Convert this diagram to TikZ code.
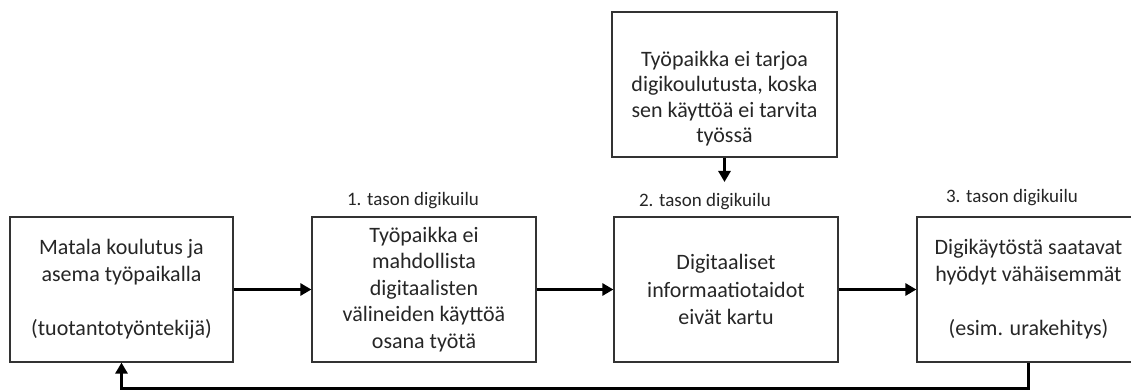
\documentclass[tikz,border=0pt]{standalone}
\usepackage{fontspec}
\setmainfont{Carlito}
\usetikzlibrary{arrows.meta}
\begin{document}
\begin{tikzpicture}[x=1pt,y=-1pt,
  box/.style={draw=black!80,line width=1.2pt,minimum width=223pt,minimum height=145pt,inner sep=0pt,align=center,font=\fontsize{22}{27}\selectfont,text=black!85},
  txt/.style={align=center,font=\fontsize{22}{25.5}\selectfont,text=black!85},
  lbl/.style={font=\fontsize{19}{23}\selectfont,text=black!85},
  arr/.style={line width=3.2pt,-{Triangle[length=11pt,width=12pt]}}]
\useasboundingbox (0,0) rectangle (1131,390);
\clip (0,0) rectangle (1131,390);
\fill[white] (0,0) rectangle (1131,390);
\node[box] (b1) at (121.5,289.5) {Matala koulutus ja\\asema työpaikalla\\[27pt](tuotantotyöntekijä)};
\node[box,minimum width=224pt,font=\fontsize{22}{26.5}\selectfont] (b2) at (424,289.5) {Työpaikka ei\\mahdollista\\digitaalisten\\välineiden käyttöä\\osana työtä};
\node[box,minimum width=224pt,font=\fontsize{22}{27.5}\selectfont] (b3) at (726,289.5) {Digitaaliset\\informaatiotaidot\\eivät kartu};
\node[box,minimum width=223pt] (b4) at (1028.5,289.5) {\makebox[210pt]{\begin{tabular}{@{}c@{}}Digikäytöstä saatavat\\hyödyt vähäisemmät\\[27pt](esim. urakehitys)\end{tabular}}};
\node[box,minimum width=225pt] (t) at (724.5,84.5) {};
\node[txt] (tt) at (724.5,98.5) {Työpaikka ei tarjoa\\digikoulutusta, koska\\sen käyttöä ei tarvita\\työssä};
\node[lbl] (l1) at (413,201) {1. tason digikuilu};
\node[lbl] (l2) at (705,202) {2. tason digikuilu};
\node[lbl] (l3) at (1012,198) {3. tason digikuilu};
\coordinate (a2) at (724.5,182);
\coordinate (fb) at (0,389);
\draw[arr] (t.south) -- (a2);
\draw[arr] (b1.east) -- (b2.west);
\draw[arr] (b2.east) -- (b3.west);
\draw[arr] (b3.east) -- (b4.west);
\draw[arr] (b4.south) -- (b4.south |- fb) -- (b1.south |- fb) -- (b1.south);
\end{tikzpicture}
\end{document}
